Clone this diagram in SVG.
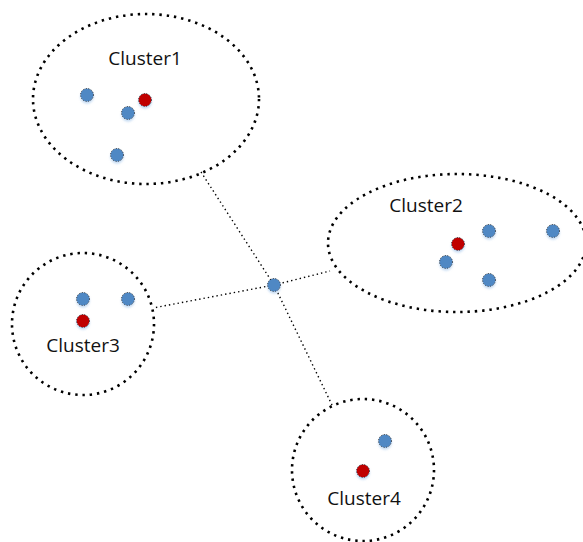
<svg xmlns="http://www.w3.org/2000/svg" width="583" height="542" viewBox="0 0 583 542">
<defs>
<style>
.cl{fill:none;stroke:#000;stroke-width:2.6;stroke-dasharray:2.4 4.9}
.cn{fill:none;stroke:#000;stroke-width:1.4;stroke-dasharray:1.4 3}
.b{fill:#4f88c4;stroke:#1a1a1a;stroke-width:1;stroke-dasharray:1 1.6}
.r{fill:#c00000;stroke:#1a1a1a;stroke-width:1;stroke-dasharray:1 1.6}
.t{font-family:"Open Sans","Liberation Sans",Arial,sans-serif;font-size:19px;fill:#111;text-anchor:middle}
</style>
<filter id="sh" x="-50%" y="-50%" width="200%" height="200%">
<feGaussianBlur in="SourceAlpha" stdDeviation="1.2"/>
<feOffset dx="0" dy="1.5" result="o"/>
<feFlood flood-color="#9fc3ea" flood-opacity="0.6"/>
<feComposite in2="o" operator="in"/>
<feMerge><feMergeNode/><feMergeNode in="SourceGraphic"/></feMerge>
</filter>
</defs>
<rect width="583" height="542" fill="#fff"/>
<g id="connectors">
<line class="cn" x1="201" y1="172" x2="274" y2="285"/>
<line class="cn" x1="274" y1="285" x2="332" y2="405"/>
<line class="cn" x1="274" y1="285" x2="330" y2="271"/>
<line class="cn" x1="274" y1="285" x2="153" y2="308"/>
</g>
<g id="cluster1">
<ellipse class="cl" cx="146" cy="99" rx="113" ry="85"/>
<text class="t" x="145" y="65">Cluster1</text>
<g filter="url(#sh)">
<circle class="b" cx="87" cy="95" r="6.5"/>
<circle class="b" cx="128" cy="113" r="6.5"/>
<circle class="r" cx="145" cy="100" r="6.5"/>
<circle class="b" cx="117" cy="155" r="6.5"/>
</g>
</g>
<g id="cluster2">
<ellipse class="cl" cx="457" cy="243" rx="129" ry="69"/>
<text class="t" x="426" y="212">Cluster2</text>
<g filter="url(#sh)">
<circle class="b" cx="489" cy="231" r="6.5"/>
<circle class="b" cx="553" cy="231" r="6.5"/>
<circle class="r" cx="458" cy="244" r="6.5"/>
<circle class="b" cx="446" cy="262" r="6.5"/>
<circle class="b" cx="489" cy="280" r="6.5"/>
</g>
</g>
<g id="cluster3">
<circle class="cl" cx="83" cy="324" r="71"/>
<text class="t" x="83" y="352">Cluster3</text>
<g filter="url(#sh)">
<circle class="b" cx="83" cy="299" r="6.5"/>
<circle class="b" cx="128" cy="299" r="6.5"/>
<circle class="r" cx="83" cy="321" r="6.5"/>
</g>
</g>
<g id="cluster4">
<circle class="cl" cx="363" cy="470" r="71"/>
<text class="t" x="364" y="505">Cluster4</text>
<g filter="url(#sh)">
<circle class="b" cx="385" cy="441" r="6.5"/>
<circle class="r" cx="363" cy="471" r="6.5"/>
</g>
</g>
<g id="center">
<circle class="b" cx="274" cy="285" r="6.5" filter="url(#sh)"/>
</g>
</svg>
